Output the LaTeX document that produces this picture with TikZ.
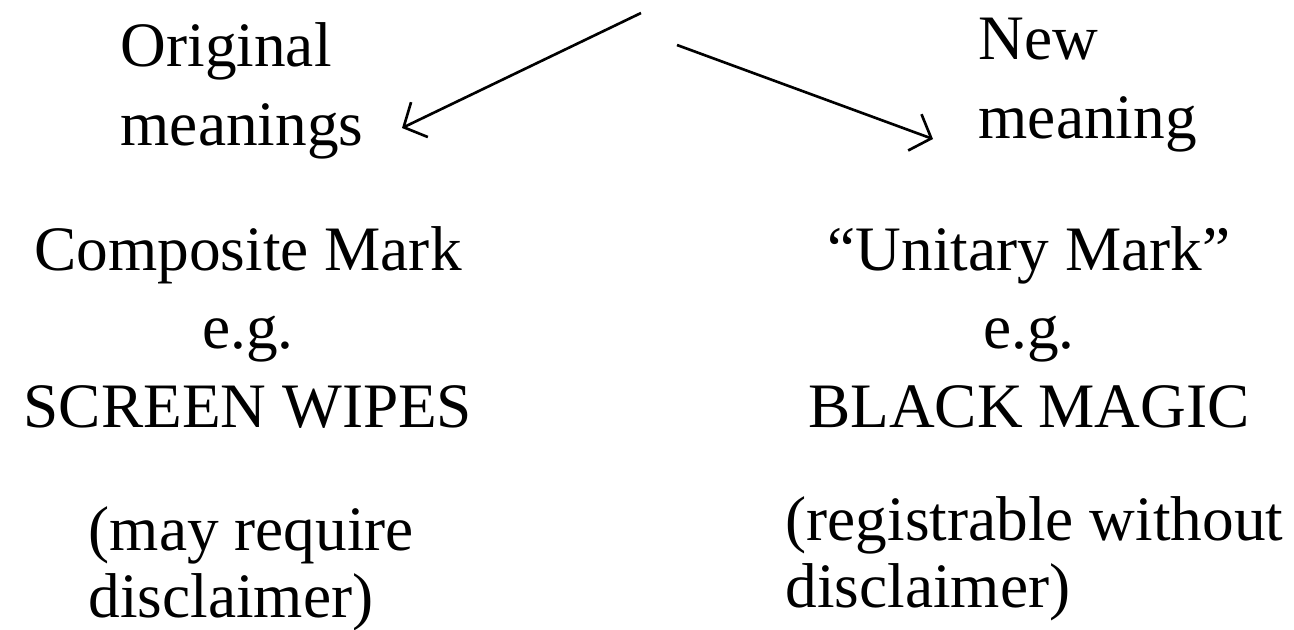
\documentclass[tikz,border=0pt]{standalone}
\usepackage{fontspec}
\setmainfont{Liberation Serif}
\usetikzlibrary{arrows.meta}

\tikzset{
  lbl/.style={font=\fontsize{18}{22.2}\selectfont, inner sep=0pt},
  note/.style={font=\fontsize{18}{19}\selectfont, inner sep=0pt, align=left},
  branch/.style={-{Straight Barb[length=5pt,width=11pt]}, line width=0.75pt},
}

\begin{document}
\begin{tikzpicture}[x=0.01cm,y=-0.01cm]
\useasboundingbox (0,0) rectangle (1294,629);

% the two headings (base = last line)
\node[lbl,align=left,anchor=base west] (orig) at (120,145) {Original\\meanings};
\node[lbl,align=left,anchor=base west] (new) at (978,138) {New\\meaning};

% the examples
\node[lbl,align=center,anchor=base] (comp) at (248,427) {Composite Mark\\e.g.\\SCREEN WIPES};
\node[lbl,align=center,anchor=base] (unit) at (1029,427) {“Unitary Mark”\\e.g.\\BLACK MAGIC};

% the footnotes
\node[note,anchor=base west] (mayreq) at (88,617) {(may require\\disclaimer)};
\node[note,anchor=base west] (regwo) at (785,607) {(registrable without\\disclaimer)};

% arrows splitting from the top
\coordinate (forkl) at (641,13);
\coordinate (tipl) at (402,128);
\coordinate (forkr) at (677,45);
\coordinate (tipr) at (933,139);
\draw[branch] (forkl) -- (tipl);
\draw[branch] (forkr) -- (tipr);
\end{tikzpicture}
\end{document}
